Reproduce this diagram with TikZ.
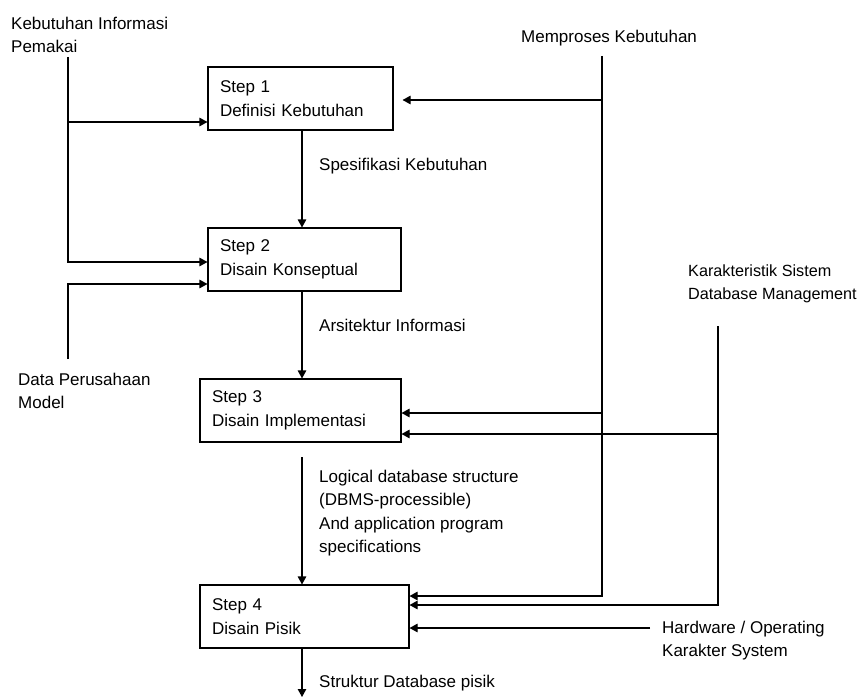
\documentclass[tikz,border=0pt]{standalone}
\usepackage{fontspec}
\setmainfont{Liberation Sans}
\usetikzlibrary{arrows.meta}
\begin{document}
\begin{tikzpicture}[x=1pt,y=-1pt,
  txt/.style={font=\fontsize{17}{23.5}\selectfont, inner sep=0pt, anchor=north west, align=left},
  stepbox/.style={draw, line width=1.1pt, font=\fontsize{17}{23.5}\selectfont, align=left,
    inner xsep=12pt, inner ysep=0pt, minimum height=63pt},
  conn/.style={line width=1.1pt, -{Triangle[length=8pt,width=8.5pt]}},
  plainline/.style={line width=1.1pt}]
\useasboundingbox (0,0) rectangle (862,698);

% boxes
\node[stepbox, text width=161pt] (b1) at (300.5,98.5) {Step 1\\Definisi Kebutuhan};
\node[stepbox, text width=169pt] (b2) at (304.5,259.5) {Step 2\\Disain Konseptual};
\node[stepbox, text width=177pt] (b3) at (300.5,410.5) {Step 3\\Disain Implementasi};
\node[stepbox, text width=185pt] (b4) at (304.5,616.5) {Step 4\\Disain Pisik};

% texts
\node[txt] (kip) at (11,16.6) {Kebutuhan Informasi\\Pemakai};
\node[txt] (mk) at (521,29.6) {Memproses Kebutuhan};
\node[txt] (sk) at (319,157.6) {Spesifikasi Kebutuhan};
\node[txt] (ai) at (319,319.3) {Arsitektur Informasi};
\node[txt] (dpm) at (18,372.6) {Data Perusahaan\\Model};
\node[txt, font=\fontsize{16.2}{23}\selectfont] (ksdm) at (688,265) {Karakteristik Sistem\\Database Management};
\node[txt] (ldb) at (319,469.6) {Logical database structure\\(DBMS-processible)\\And application program\\specifications};
\node[txt] (hw) at (662,620.6) {Hardware / Operating\\Karakter System};
\node[txt] (sdp) at (319,674.6) {Struktur Database pisik};

% helper coordinates
\coordinate (cx) at (302,0);
\coordinate (ktop) at (68,57);
\coordinate (dtop) at (68,359);
\coordinate (mtop) at (602,56);
\coordinate (kstop) at (718,326);
\coordinate (hwend) at (650,628);
\coordinate (l34) at (302,457);
\coordinate (bot) at (302,697);

% central flow
\draw[conn] (b1.south -| cx) -- (b2.north -| cx);
\draw[conn] (b2.south -| cx) -- (b3.north -| cx);
\draw[conn] (l34) -- (b4.north -| cx);
\draw[conn] (b4.south -| cx) -- (bot);

% left inputs
\draw[conn] (ktop) |- (b2.west |- 0,262);
\draw[conn] (ktop |- 0,122) -- (b1.west |- 0,122);
\draw[conn] (dtop) |- (b2.west |- 0,284);

% Memproses Kebutuhan
\draw[conn] (mtop) |- (b4.east |- 0,596);
\draw[conn, shorten >=9pt] (mtop |- 0,100) -- (b1.east |- 0,100);
\draw[conn] (mtop |- 0,413) -- (b3.east |- 0,413);

% Karakteristik Sistem Database Management
\draw[conn] (kstop) |- (b4.east |- 0,605);
\draw[conn] (kstop |- 0,434) -- (b3.east |- 0,434);

% Hardware
\draw[conn] (hwend) -- (b4.east |- hwend);
\end{tikzpicture}
\end{document}
